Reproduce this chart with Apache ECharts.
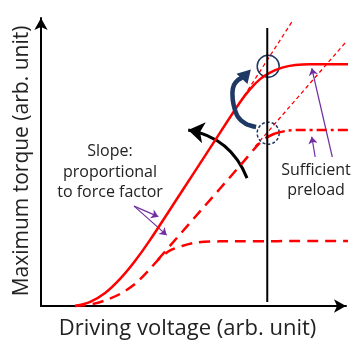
<!DOCTYPE html>
<html>
<head>
<meta charset="utf-8">
<script src="https://cdn.jsdelivr.net/npm/echarts@6/dist/echarts.min.js"></script>
<style>
  html, body { margin: 0; padding: 0; background: #fff; }
  #chart { width: 353px; height: 343px; }
</style>
</head>
<body>
<div id="chart"></div>
<script>
// values in arbitrary units (x: driving voltage, y: maximum torque)
const solidCurve = [
  [10.9, 0], [15.8, 1.4], [20.6, 4.4], [25.4, 9.2], [30.2, 15.3], [35.0, 22.4],
  [44.7, 38.1], [54.3, 53.7], [64.0, 69.4], [67.2, 73.8], [70.4, 77.2],
  [73.6, 79.4], [77.5, 81.1], [81.7, 82.0], [86.5, 82.3], [100, 82.3]
]
// lower dashed curve (weak preload), its start is shared with the middle one
const lowCurve = [
  [10.9, 0], [15.8, 0.5], [20.6, 1.9], [25.4, 4.1], [30.2, 7.5], [34.4, 11.9],
  [38.2, 16.3], [41.5, 18.9], [45.3, 20.4], [50.1, 21.6], [57.5, 22.0], [100, 22.1]
]
// middle curve, dashed part then dash-dot plateau
const midCurveDash = [
  [37.6, 15.8], [51.1, 32.2], [64.0, 47.8], [69.7, 54.8], [72.3, 57.2], [75.2, 58.7]
]
const midCurveDashDot = [[75.2, 58.7], [79.4, 59.7], [84.9, 59.9], [100, 59.9]]

// straight slope extensions
const slopeLines = [
  [[64.0, 69.4], [81.0, 97.3]],
  [[68.8, 54.3], [97.7, 89.5]]
]
const markerVoltage = [[72.7, 1.4], [72.7, 94.6]]
const circlePoints = [[73.0, 81.6], [73.0, 58.8]]

// navy arc from the dashed circle up to the solid circle, then its head
const navyArc = [
  [69.1, 60.9], [65.9, 61.9], [63.3, 64.3], [61.9, 68.4], [61.5, 72.5],
  [62.0, 75.2], [63.3, 76.9], [64.6, 77.7]
]
const navyHead = [[66.0, 78.9]]
// arrows: [from, to]
const blackArrow = [[66.2, 43.5], [47.3, 59.9]]
const purpleArrows = [
  [[93.6, 50.7], [87.0, 80.9]],
  [[88.1, 50.7], [87.0, 57.6]],
  [[29.9, 34.0], [37.7, 30.4]],
  [[29.9, 34.0], [40.4, 24.1]]
]

const xTitle = 'Driving voltage (arb. unit)'
const yTitle = 'Maximum torque (arb. unit)'
const slopeNote = 'Slope:\nproportional\nto force factor'
const preloadNote = 'Sufficient\npreload'

const RED = '#ff0000'
const NAVY = '#1f3864'
const PURPLE = '#7030a0'
const FONT = '"Open Sans", "Noto Sans", sans-serif'

const chart = echarts.init(document.getElementById('chart'), null, { renderer: 'canvas' })

const axisCommon = {
  type: 'value',
  min: 0,
  max: 98,
  axisLine: {
    show: true,
    symbol: ['none', 'arrow'],
    symbolSize: [10, 12],
    lineStyle: { color: '#000', width: 2 },
  },
  axisTick: { show: false },
  axisLabel: { show: false },
  splitLine: { show: false },
}

const curve = (data, lineStyle) => ({
  type: 'line',
  data,
  smooth: 0.3,
  showSymbol: false,
  clip: false,
  silent: true,
  lineStyle,
})

const textStyle = (text, size, lineHeight) => ({
  text,
  font: size + 'px ' + FONT,
  fill: '#222',
  align: 'center',
  verticalAlign: 'middle',
  textAlign: 'center',
  textVerticalAlign: 'middle',
  lineHeight,
})

const option = {
  animation: false,
  grid: { left: 41, right: 7, top: 18, bottom: 37 },
  xAxis: axisCommon,
  yAxis: axisCommon,
  graphic: [
    { type: 'text', x: 110, y: 172, style: textStyle(slopeNote, 16, 20.5) },
    { type: 'text', x: 316, y: 180, style: textStyle(preloadNote, 16, 20) },
    { type: 'text', x: 187.5, y: 329, style: textStyle(xTitle, 22) },
    { type: 'text', x: 22, y: 161, rotation: Math.PI / 2, style: textStyle(yTitle, 21) },
  ],
  series: [
    curve(lowCurve, { color: RED, width: 2.5, type: [11, 7] }),
    curve(midCurveDash, { color: RED, width: 2.5, type: [11, 7] }),
    curve(midCurveDashDot, { color: RED, width: 2.5, type: [10, 4, 3, 4] }),
    curve(solidCurve, { color: RED, width: 2.5 }),
    {
      type: 'lines',
      coordinateSystem: 'cartesian2d',
      silent: true,
      data: slopeLines.map((c) => ({ coords: c })),
      lineStyle: { color: RED, width: 1.3, type: [4, 3], opacity: 1 },
    },
    {
      type: 'line',
      data: markerVoltage,
      showSymbol: false,
      silent: true,
      lineStyle: { color: '#000', width: 2 },
    },
    {
      type: 'scatter',
      data: [circlePoints[0]],
      symbolSize: 22,
      silent: true,
      itemStyle: { color: 'rgba(0,0,0,0)', borderColor: NAVY, borderWidth: 1.5, opacity: 1 },
    },
    {
      type: 'scatter',
      data: [circlePoints[1]],
      symbolSize: 22,
      silent: true,
      itemStyle: { color: 'rgba(0,0,0,0)', borderColor: NAVY, borderWidth: 1.5, borderType: [3, 2], opacity: 1 },
    },
    curve(navyArc, { color: NAVY, width: 4.5, cap: 'butt' }),
    {
      type: 'scatter',
      data: navyHead,
      symbol: 'triangle',
      symbolSize: [15, 13],
      symbolRotate: -43,
      silent: true,
      itemStyle: { color: NAVY, opacity: 1 },
    },
    {
      type: 'lines',
      coordinateSystem: 'cartesian2d',
      silent: true,
      symbol: ['none', 'arrow'],
      symbolSize: 16,
      data: [{ coords: blackArrow }],
      lineStyle: { color: '#000', width: 3, curveness: -0.28, opacity: 1 },
    },
    {
      type: 'lines',
      coordinateSystem: 'cartesian2d',
      silent: true,
      symbol: ['none', 'arrow'],
      symbolSize: 7,
      data: purpleArrows.map((c) => ({ coords: c })),
      lineStyle: { color: PURPLE, width: 1.2, opacity: 1 },
    },
  ],
}

chart.setOption(option)
</script>
</body>
</html>
